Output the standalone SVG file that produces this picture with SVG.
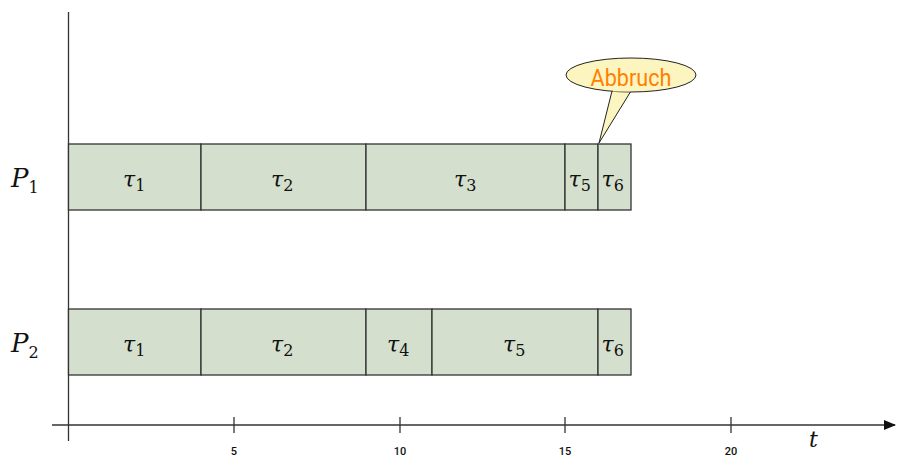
<svg xmlns="http://www.w3.org/2000/svg" width="899" height="469" viewBox="0 0 899 469">
<defs>
<style>
.box{fill:#d4e0cd;stroke:#333;stroke-width:1.3}
.ax{stroke:#333;stroke-width:1.3;fill:none}
.tau{font-family:"DejaVu Serif","Liberation Serif",serif;font-style:italic;font-size:22px;fill:#111}
.sub{font-style:normal;font-size:16px}
.proc{font-family:"DejaVu Serif","Liberation Serif",serif;font-style:italic;font-size:26px;fill:#111}
.tick{font-family:Roboto,"Liberation Sans",sans-serif;font-size:11px;font-weight:500;fill:#111;text-anchor:middle}
</style>
<marker id="arr" markerWidth="12" markerHeight="10" refX="11" refY="5" orient="auto" markerUnits="userSpaceOnUse">
<path d="M0,0 L12,5 L0,10 Z" fill="#111"/>
</marker>
</defs>
<g id="axes">
<line class="ax" x1="68.5" y1="12" x2="68.5" y2="441"/>
<line class="ax" x1="52" y1="425" x2="895" y2="425" marker-end="url(#arr)"/>
<line class="ax" x1="234" y1="417" x2="234" y2="433"/>
<line class="ax" x1="400" y1="417" x2="400" y2="433"/>
<line class="ax" x1="565" y1="417" x2="565" y2="433"/>
<line class="ax" x1="731" y1="417" x2="731" y2="433"/>
<text class="tick" x="234" y="455">5</text>
<text class="tick" x="400" y="455">10</text>
<text class="tick" x="565" y="455">15</text>
<text class="tick" x="731" y="455">20</text>
<text class="tau" x="809" y="447">t</text>
</g>
<g id="P1">
<text class="proc" x="11" y="187">P<tspan class="sub" font-size="18" dy="6">1</tspan></text>
<rect class="box" x="68.5" y="144" width="132.5" height="66"/>
<rect class="box" x="201" y="144" width="165" height="66"/>
<rect class="box" x="366" y="144" width="199" height="66"/>
<rect class="box" x="565" y="144" width="33" height="66"/>
<rect class="box" x="598" y="144" width="33" height="66"/>
<text class="tau" x="123" y="187">τ<tspan class="sub" dy="4">1</tspan></text>
<text class="tau" x="271" y="187">τ<tspan class="sub" dy="4">2</tspan></text>
<text class="tau" x="454" y="187">τ<tspan class="sub" dy="4">3</tspan></text>
<text class="tau" x="568.5" y="187">τ<tspan class="sub" dy="4">5</tspan></text>
<text class="tau" x="601.5" y="187">τ<tspan class="sub" dy="4">6</tspan></text>
</g>
<g id="P2">
<text class="proc" x="11" y="352">P<tspan class="sub" font-size="18" dy="6">2</tspan></text>
<rect class="box" x="68.5" y="309" width="132.5" height="66"/>
<rect class="box" x="201" y="309" width="165" height="66"/>
<rect class="box" x="366" y="309" width="66" height="66"/>
<rect class="box" x="432" y="309" width="166" height="66"/>
<rect class="box" x="598" y="309" width="33" height="66"/>
<text class="tau" x="123" y="352">τ<tspan class="sub" dy="4">1</tspan></text>
<text class="tau" x="271" y="352">τ<tspan class="sub" dy="4">2</tspan></text>
<text class="tau" x="387" y="352">τ<tspan class="sub" dy="4">4</tspan></text>
<text class="tau" x="503" y="352">τ<tspan class="sub" dy="4">5</tspan></text>
<text class="tau" x="601.5" y="352">τ<tspan class="sub" dy="4">6</tspan></text>
</g>
<g id="callout">
<path d="M612,91 L599,143 L631,91" fill="#fdf5bf" stroke="#222" stroke-width="1"/>
<ellipse cx="631" cy="75" rx="65" ry="17" fill="#fdf5bf" stroke="#222" stroke-width="1"/>
<path d="M613,90.5 L630,90.5" stroke="#fdf5bf" stroke-width="2"/>
<text x="631" y="86" text-anchor="middle" font-family="Roboto,'Liberation Sans Narrow','Liberation Sans',sans-serif" font-size="24" fill="#ff8000" transform="translate(631 0) scale(0.9 1) translate(-631 0)">Abbruch</text>
</g>
</svg>
